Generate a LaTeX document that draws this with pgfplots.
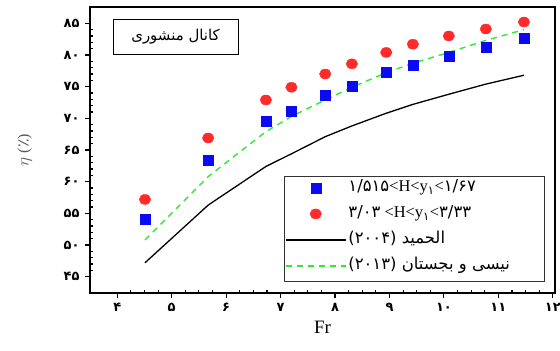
\documentclass[border=0pt]{standalone}
\usepackage{fontspec}
\setmainfont{Liberation Serif}
\newfontfamily\fa[Script=Arabic]{DejaVu Sans}
\TeXXeTstate=1
\usepackage{pgfplots}
\pgfplotsset{compat=1.18}
\definecolor{bsq}{HTML}{0A0AF5}
\definecolor{rci}{HTML}{FF2B2B}
\definecolor{gdash}{HTML}{33E833}
\pgfplotsset{
  mylegimg/.style={legend image code/.code={\draw[mark repeat=2,mark phase=2] plot coordinates {(0bp,0bp)(30bp,0bp)(60bp,0bp)};}}
}
\begin{document}
\begin{tikzpicture}
\useasboundingbox (-90bp,-58bp) rectangle (470bp,293bp);
\begin{axis}[
  at={(0,0)}, anchor=south west, scale only axis,
  width=465bp, height=286bp,
  xmin=3.5, xmax=12.04, ymin=42.43, ymax=87.57,
  axis line style={line width=1.6bp},
  xtick={4,...,12},
  xticklabels={۴,۵,۶,۷,۸,۹,۱۰,۱۱,۱۲},
  ytick={45,50,...,85},
  yticklabels={۴۵,۵۰,۵۵,۶۰,۶۵,۷۰,۷۵,۸۰,۸۵},
  minor x tick num=3, minor y tick num=4,
  tick align=inside, major tick length=-5bp, minor tick length=3bp,
  tick style={line width=1.1bp, black},
  xtick pos=left, ytick pos=left,
  ticklabel style={font=\fa\bfseries\fontsize{13}{15}\selectfont},
  xticklabel style={anchor=center, yshift=-14bp},
  yticklabel style={anchor=east, xshift=-7bp},
  xlabel={Fr},
  xlabel style={font=\fontsize{19}{22}\selectfont, at={(axis description cs:0.5,-0.119)}, anchor=center},
  ylabel={$\eta$ ({\fa ٪})},
  ylabel style={font=\fontsize{16}{18}\selectfont, text=black!65, at={(axis description cs:-0.140,0.5)}, anchor=center},
  legend style={draw=none, fill=none, at={(axis description cs:0.419,0.403)}, anchor=north west,
    inner xsep=0pt, inner ysep=0bp, row sep=6bp, font=\fontsize{16.5}{18}\selectfont,
    nodes={text height=12bp, text depth=4bp}},
  legend cell align=left,
]
\draw[line width=0.8bp, black!80, fill=white] (rel axis cs:0.419,0.409) rectangle (rel axis cs:0.978,0.042);
\addplot[only marks, mark=square*, mark size=5bp, color=bsq, mylegimg] coordinates {
(4.51,54.1) (5.67,63.4) (6.73,69.6) (7.20,71.1) (7.82,73.6) (8.31,75.1) (8.94,77.3) (9.43,78.4) (10.09,79.8) (10.77,81.3) (11.47,82.6)};
\addlegendentry{{\fa ۱/۵۱۵}<H<y\textsubscript{\fa ۱}<{\fa ۱/۶۷}}
\addplot[only marks, mark=*, mark size=5bp, mark options={xscale=1.15}, color=rci, mylegimg] coordinates {
(4.51,57.2) (5.67,66.9) (6.73,72.9) (7.20,74.9) (7.82,77.0) (8.31,78.6) (8.94,80.4) (9.43,81.7) (10.09,83.0) (10.77,84.1) (11.47,85.2)};
\addlegendentry{{\fa ۳/۰۳} <H<y\textsubscript{\fa ۱}<{\fa ۳/۳۳}}
\addplot[black, line width=1.3bp, mark=none, mylegimg] coordinates {
(4.51,47.2) (5.67,56.3) (6.73,62.4) (7.20,64.4) (7.82,67.1) (8.31,68.8) (8.94,70.8) (9.43,72.2) (10.09,73.8) (10.77,75.4) (11.47,76.8)};
\addlegendentry{{\fa (۲۰۰۴) \beginR الحمید\endR}}
\addplot[gdash, line width=1.4bp, dash pattern=on 6bp off 5bp, mark=none, mylegimg] coordinates {
(4.51,50.8) (5.67,60.8) (6.73,67.9) (7.20,70.3) (7.82,72.9) (8.31,74.9) (8.94,77.2) (9.43,78.7) (10.09,80.4) (10.77,82.3) (11.47,84.0)};
\addlegendentry{{\fa (۲۰۱۳) \beginR نیسی و بجستان\endR}}
\node[draw, line width=0.8bp, minimum width=125bp, minimum height=35bp, fill=white, font=\fontsize{15}{17}\selectfont]
  at (rel axis cs:0.184,0.897) {\fa\beginR کانال منشوری\endR};
\end{axis}
\end{tikzpicture}
\end{document}
